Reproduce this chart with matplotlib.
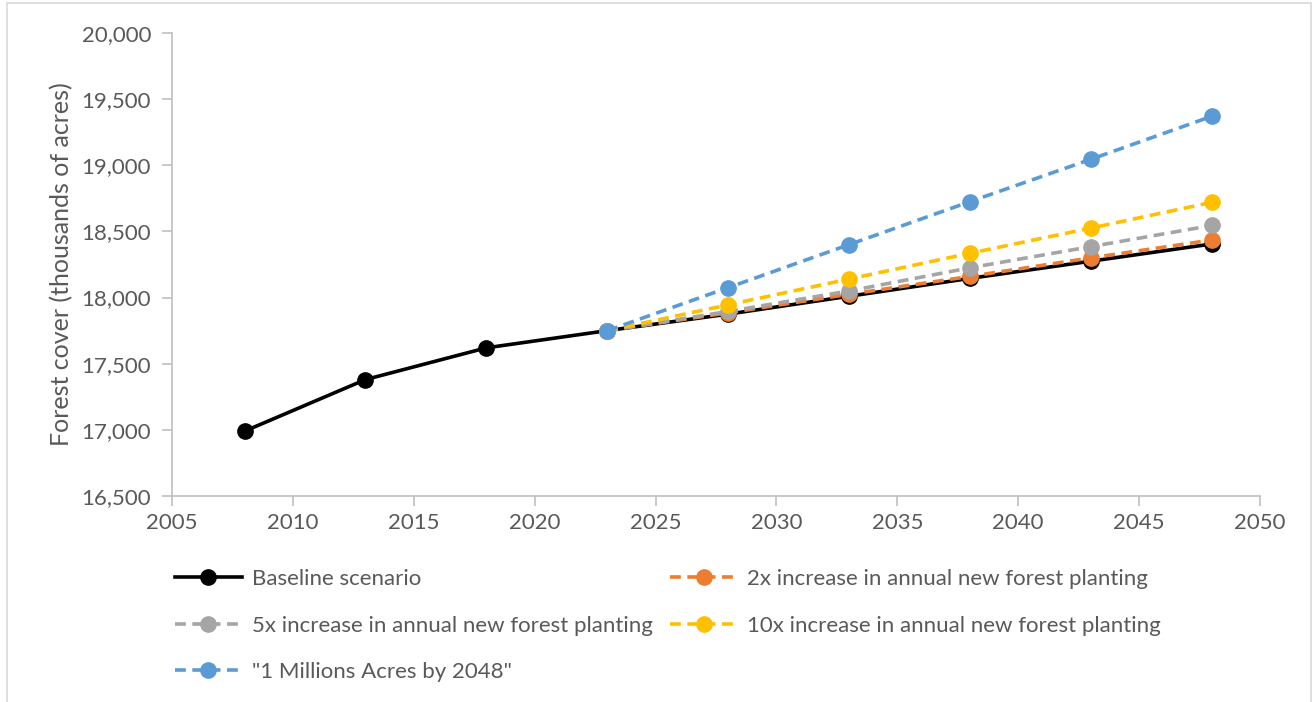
import matplotlib.pyplot as plt
from matplotlib.ticker import FuncFormatter
from matplotlib.patches import Rectangle

# Data (thousands of acres)
years_base = [2008, 2013, 2018, 2023, 2028, 2033, 2038, 2043, 2048]
baseline = [16990, 17380, 17620, 17750, 17875, 18010, 18145, 18275, 18405]

years_proj = [2023, 2028, 2033, 2038, 2043, 2048]
increase_2x = [17750, 17885, 18025, 18160, 18300, 18435]
increase_5x = [17750, 17895, 18050, 18225, 18385, 18545]
increase_10x = [17750, 17945, 18140, 18335, 18525, 18720]
million_acres = [17750, 18075, 18400, 18725, 19045, 19370]

labels = [
    "Baseline scenario",
    "2x increase in annual new forest planting",
    "5x increase in annual new forest planting",
    "10x increase in annual new forest planting",
    '"1 Millions Acres by 2048"',
]
colors = ["#000000", "#ED7D31", "#A5A5A5", "#FFC000", "#5B9BD5"]

plt.rcParams['font.family'] = ['Lato', 'DejaVu Sans']
text_col = "#595959"
axis_col = "#BFBFBF"

fig = plt.figure(figsize=(13.15, 7.02), dpi=100)
ax = fig.add_axes([172 / 1315, 1 - 496 / 702, (1260 - 172) / 1315, (496 - 33) / 702])

# outer chart border
fig.patches.append(Rectangle((7 / 1315, -0.01), (1311 - 7) / 1315, 1 - 3 / 702 + 0.01,
                             transform=fig.transFigure, fill=False,
                             edgecolor="#D9D9D9", linewidth=1.2))

handles = []
h, = ax.plot(years_base, baseline, color=colors[0], lw=2.6, marker='o', ms=11,
             label=labels[0], zorder=3)
handles.append(h)
series = [increase_2x, increase_5x, increase_10x, million_acres]
for i, vals in enumerate(series):
    h, = ax.plot(years_proj, vals, color=colors[i + 1], lw=2.6, ls=(0, (3, 1.8)),
                 marker='o', ms=11, label=labels[i + 1], zorder=4 + i)
    handles.append(h)

ax.set_xlim(2005, 2050)
ax.set_ylim(16500, 20000)
ax.set_xticks(range(2005, 2051, 5))
ax.set_yticks(range(16500, 20001, 500))
ax.yaxis.set_major_formatter(FuncFormatter(lambda v, p: f"{int(v):,}"))

for s in ["top", "right"]:
    ax.spines[s].set_visible(False)
for s in ["left", "bottom"]:
    ax.spines[s].set_color(axis_col)
    ax.spines[s].set_linewidth(1.2)
ax.tick_params(axis='both', colors=axis_col, length=7, width=1.2,
               labelcolor=text_col, labelsize=16)
ax.tick_params(axis='y', pad=8)
ax.tick_params(axis='x', pad=5)

ax.set_ylabel("Forest cover (thousands of acres)", fontsize=18, color=text_col, labelpad=6)

# legend filled row by row, as in the original
order = [0, 2, 4, 1, 3]
leg = fig.legend([handles[i] for i in order], [labels[i] for i in order],
                 loc='upper left', bbox_to_anchor=(166 / 1315, 1 - 560 / 702), ncol=2,
                 frameon=False, fontsize=16, handlelength=3.0, handletextpad=0.45,
                 columnspacing=0.8, labelspacing=1.2, borderaxespad=0)
for t in leg.get_texts():
    t.set_color(text_col)

fig.savefig("out.png", dpi=100)
